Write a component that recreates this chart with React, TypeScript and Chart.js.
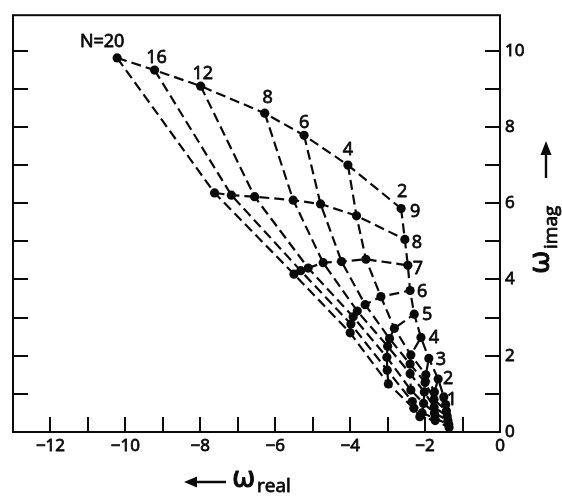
import React, { useEffect, useRef } from "react";
import { Chart, registerables } from "chart.js";

Chart.register(...registerables);

// Parameter N of each dashed "constant-N" line (top-curve labels)
const nValues = [20, 16, 12, 8, 6, 4, 2];
// Mode numbers along each N line (top to bottom), labelled on the N=2 line
const modeLabels = [9, 8, 7, 6, 5, 4, 3, 2, 1];

// omega_real / omega_imag for each N, modes 9..1
const realN20 = [-10.22, -7.62, -5.5, -4.0, -2.98, -2.3, -2.14, -1.73, -1.36];
const imagN20 = [9.81, 6.27, 4.14, 2.6, 1.26, 0.62, 0.4, 0.3, 0.12];
const realN16 = [-9.22, -7.17, -5.32, -3.98, -3.01, -2.34, -2.08, -1.74, -1.37];
const imagN16 = [9.49, 6.21, 4.23, 2.83, 1.62, 0.8, 0.5, 0.36, 0.2];
const realN12 = [-7.99, -6.55, -5.12, -3.92, -3.02, -2.38, -2.04, -1.75, -1.39];
const imagN12 = [9.07, 6.17, 4.3, 3.02, 1.96, 1.1, 0.75, 0.5, 0.3];
const realN8 = [-6.28, -5.52, -4.72, -3.81, -3.0, -2.4, -2.02, -1.76, -1.41];
const imagN8 = [8.36, 6.08, 4.44, 3.17, 2.25, 1.53, 1.05, 0.65, 0.42];
const realN6 = [-5.23, -4.79, -4.23, -3.6, -2.95, -2.4, -2.0, -1.76, -1.43];
const imagN6 = [7.78, 5.98, 4.47, 3.34, 2.45, 1.78, 1.3, 0.85, 0.55];
const realN4 = [-4.06, -3.83, -3.58, -3.18, -2.82, -2.38, -1.98, -1.75, -1.45];
const imagN4 = [7.0, 5.67, 4.53, 3.55, 2.72, 2.02, 1.5, 1.05, 0.72];
const realN2 = [-2.64, -2.54, -2.46, -2.4, -2.29, -2.11, -1.9, -1.65, -1.5];
const imagN2 = [5.86, 5.05, 4.37, 3.71, 3.09, 2.48, 1.93, 1.39, 0.92];

const realByN = [realN20, realN16, realN12, realN8, realN6, realN4, realN2];
const imagByN = [imagN20, imagN16, imagN12, imagN8, imagN6, imagN4, imagN2];

// Axis ranges and tick labels
const xMin = -13;
const xMax = 0;
const yMin = 0;
const yMax = 10.93;
const xTickLabels = [-12, -10, -8, -6, -4, -2, 0];
const yTickLabels = [0, 2, 4, 6, 8, 10];

// label offsets (pixels) relative to the labelled point
const nLabelOffsets = [[-15, -16], [2, -12], [2, -12], [3, -15], [0, -12], [0, -15], [1, -17]];
const modeLabelOffsets = [[14, 3], [12, 3], [10, 4], [12, 1], [13, 1], [13, 0], [12, 1], [10, 0], [8, 3]];

const INK = "#0a0a0a";
const FONT = "'Open Sans', 'DejaVu Sans', sans-serif";
const STROKE = 0.8;

function fmtX(v: number) {
  if (v === 0) return "0";
  return "\u2212" + Math.abs(v);
}

function heavyText(ctx: any, txt: string, x: number, y: number, sw: number) {
  ctx.fillText(txt, x, y);
  ctx.lineWidth = sw;
  ctx.strokeText(txt, x, y);
}

const framePlugin = {
  id: "frameAndLabels",
  afterDraw(chart: any) {
    const { ctx, chartArea, scales } = chart;
    const { left, right, top, bottom } = chartArea;
    const xs = scales.x;
    const ys = scales.y;
    ctx.save();
    ctx.strokeStyle = INK;
    ctx.lineWidth = 2;
    ctx.setLineDash([]);
    ctx.strokeRect(left, top, right - left, bottom - top);
    const tl = 15;
    ctx.beginPath();
    for (let v = Math.ceil(xMin) + 1; v < xMax; v++) {
      const px = Math.round(xs.getPixelForValue(v));
      ctx.moveTo(px, bottom);
      ctx.lineTo(px, bottom - tl);
    }
    for (let v = 1; v <= Math.floor(yMax); v++) {
      const py = Math.round(ys.getPixelForValue(v));
      ctx.moveTo(right, py);
      ctx.lineTo(right - tl, py);
      ctx.moveTo(left, py);
      ctx.lineTo(left + tl, py);
    }
    ctx.stroke();

    // point labels
    ctx.fillStyle = INK;
    ctx.lineJoin = "round";
    ctx.textAlign = "center";
    ctx.textBaseline = "middle";
    ctx.font = `18px ${FONT}`;
    nValues.forEach((n, i) => {
      const px = xs.getPixelForValue(realByN[i][0]);
      const py = ys.getPixelForValue(imagByN[i][0]);
      const txt = i === 0 ? "N=" + n : String(n);
      heavyText(ctx, txt, px + nLabelOffsets[i][0], py + nLabelOffsets[i][1], STROKE);
    });
    const last = nValues.length - 1;
    modeLabels.forEach((m, j) => {
      const px = xs.getPixelForValue(realByN[last][j]);
      const py = ys.getPixelForValue(imagByN[last][j]);
      heavyText(ctx, String(m), px + modeLabelOffsets[j][0], py + modeLabelOffsets[j][1], STROKE);
    });

    // axis titles
    // bottom: arrow + omega_real
    ctx.lineWidth = 2.4;
    ctx.beginPath();
    ctx.moveTo(226, 482);
    ctx.lineTo(192, 482);
    ctx.stroke();
    ctx.beginPath();
    ctx.moveTo(184, 482);
    ctx.lineTo(197, 476.5);
    ctx.lineTo(197, 487.5);
    ctx.closePath();
    ctx.fill();
    ctx.textAlign = "left";
    ctx.textBaseline = "alphabetic";
    ctx.font = `28px 'DejaVu Sans', sans-serif`;
    heavyText(ctx, "\u03c9", 232, 487, 0.9);
    ctx.font = `19px ${FONT}`;
    heavyText(ctx, "real", 257, 492, STROKE);

    // right: omega_imag + arrow, rotated
    ctx.save();
    ctx.translate(549, 274);
    ctx.rotate(-Math.PI / 2);
    ctx.font = `28px 'DejaVu Sans', sans-serif`;
    heavyText(ctx, "\u03c9", 0, 0, 0.9);
    ctx.font = `19px ${FONT}`;
    heavyText(ctx, "imag", 25, 8, STROKE);
    ctx.restore();
    ctx.lineWidth = 2.4;
    ctx.beginPath();
    ctx.moveTo(546, 178);
    ctx.lineTo(546, 150);
    ctx.stroke();
    ctx.beginPath();
    ctx.moveTo(546, 141);
    ctx.lineTo(540.5, 155);
    ctx.lineTo(551.5, 155);
    ctx.closePath();
    ctx.fill();
    ctx.restore();
  },
};

export default function App() {
  const canvasRef = useRef<HTMLCanvasElement | null>(null);

  useEffect(() => {
    if (!canvasRef.current) return;
    const datasets: any[] = [];
    nValues.forEach((n, i) => {
      datasets.push({
        label: "N=" + n,
        data: realByN[i].map((x, j) => ({ x, y: imagByN[i][j] })),
        showLine: true,
        borderColor: INK,
        backgroundColor: INK,
        borderWidth: 2.2,
        borderDash: [10, 5],
        pointRadius: 4.6,
        pointBackgroundColor: INK,
        pointBorderWidth: 0,
        tension: 0,
      });
    });
    modeLabels.forEach((m, j) => {
      datasets.push({
        label: "mode " + m,
        data: nValues.map((_, i) => ({ x: realByN[i][j], y: imagByN[i][j] })),
        showLine: true,
        borderColor: INK,
        borderWidth: 2.2,
        borderDash: [10, 5],
        pointRadius: 0,
        tension: 0,
      });
    });

    const chart = new Chart(canvasRef.current, {
      type: "scatter",
      data: { datasets },
      options: {
        animation: false,
        responsive: false,
        maintainAspectRatio: false,
        layout: { padding: { left: 13, top: 9, right: 0, bottom: 0 } },
        plugins: { legend: { display: false }, tooltip: { enabled: false } },
        scales: {
          x: {
            type: "linear",
            position: "bottom",
            min: xMin,
            max: xMax,
            grid: { display: false, drawTicks: false },
            border: { display: false },
            afterFit: (s: any) => {
              s.height = 64;
            },
            ticks: {
              stepSize: 1,
              autoSkip: false,
              maxRotation: 0,
              padding: 4,
              color: INK,
              textStrokeColor: INK,
              textStrokeWidth: STROKE,
              font: { family: FONT, size: 17 },
              callback: (v: any) => (xTickLabels.includes(Number(v)) ? fmtX(Number(v)) : ""),
            },
          },
          y: {
            type: "linear",
            position: "right",
            min: yMin,
            max: yMax,
            grid: { display: false, drawTicks: false },
            border: { display: false },
            afterFit: (s: any) => {
              s.width = 62;
            },
            ticks: {
              stepSize: 1,
              autoSkip: false,
              padding: 5,
              color: INK,
              textStrokeColor: INK,
              textStrokeWidth: STROKE,
              font: { family: FONT, size: 17 },
              callback: (v: any) => (yTickLabels.includes(Number(v)) ? String(v) : ""),
            },
          },
        },
      },
      plugins: [framePlugin],
    });
    return () => chart.destroy();
  }, []);

  return (
    <div style={{ position: "absolute", left: 0, top: 0, width: 562, height: 496, background: "#fff" }}>
      <canvas ref={canvasRef} width={562} height={496} style={{ display: "block" }} />
    </div>
  );
}
